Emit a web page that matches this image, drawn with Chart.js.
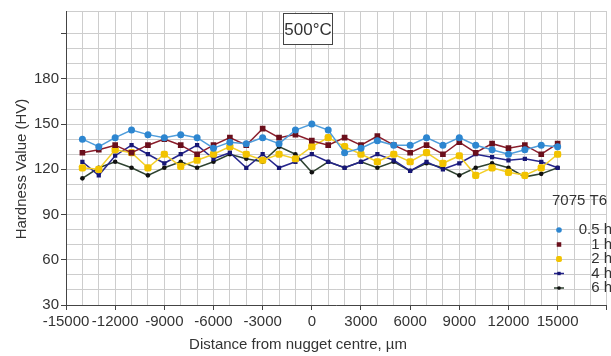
<!DOCTYPE html>
<html><head><meta charset="utf-8">
<script src="https://cdn.jsdelivr.net/npm/chart.js@4/dist/chart.umd.min.js"></script>
<style>html,body{margin:0;padding:0;background:#fff;}#wrap{position:relative;width:611px;height:356px;}</style>
</head><body><div id="wrap"><canvas id="c" width="611" height="356"></canvas></div>
<script>
const distances = [-14000,-13000,-12000,-11000,-10000,-9000,-8000,-7000,-6000,-5000,-4000,-3000,-2000,-1000,0,1000,2000,3000,4000,5000,6000,7000,8000,9000,10000,11000,12000,13000,14000,15000];
const hv_05h = [140,135,141,146,143,141,143,141,134,138,137,141,137,146,150,146,131,134,139,136,136,141,136,141,136,133,130,133,136,135];
const hv_1h  = [131,133,136,131,136,140,136,130,136,141,136,147,141,143,139,136,141,136,142,136,131,136,130,138,131,137,134,136,130,137];
const hv_2h  = [121,120,133,131,121,130,122,126,130,135,130,126,130,127,135,141,135,130,125,130,125,131,124,129,116,121,118,116,121,130];
const hv_4h  = [125,116,129,136,130,124,130,136,127,131,121,130,121,125,130,125,121,125,130,126,119,125,120,124,130,128,126,127,125,121];
const hv_6h  = [114,121,125,121,116,121,125,121,125,130,127,125,135,130,118,125,121,125,121,125,119,124,121,116,121,124,121,115,117,121];
const seriesNames = ['0.5 h','1 h','2 h','4 h','6 h'];
const legendTitle = '7075 T6';
const boxLabel = '500°C';
const xTitle = 'Distance from nugget centre, µm';
const yTitle = 'Hardness Value (HV)';

const FONT = '"Liberation Sans", Arial, sans-serif';
const styles = [
  {line:'#4f9ddb', pt:'#2d86d0', ps:'circle', r:3.5},
  {line:'#8a1d2b', pt:'#6a0f1b', ps:'rect', r:4},
  {line:'#f3cf2a', pt:'#f2c300', ps:'rectRounded', r:4.2},
  {line:'#25258c', pt:'#171775', ps:'rect', r:3},
  {line:'#2e4230', pt:'#111111', ps:'circle', r:2.3}
];
const allSeries = [hv_05h, hv_1h, hv_2h, hv_4h, hv_6h];
const datasets = allSeries.map((vals,i)=>({
  label: seriesNames[i],
  data: distances.map((d,j)=>({x:d,y:vals[j]})),
  borderColor: styles[i].line,
  backgroundColor: styles[i].pt,
  pointBackgroundColor: styles[i].pt,
  pointBorderColor: styles[i].pt,
  pointBorderWidth: 0,
  pointStyle: styles[i].ps,
  pointRadius: styles[i].r,
  borderWidth: 1.5,
  tension: 0,
  fill: false
}));

const decor = {
  id:'decor',
  afterDraw(chart){
    const ctx = chart.ctx;
    ctx.save();
    ctx.fillStyle = '#333';
    ctx.font = '15px ' + FONT;
    ctx.textAlign = 'center';
    ctx.textBaseline = 'middle';
    ctx.fillText(xTitle, 298, 345);
    ctx.save();
    ctx.translate(22, 169);
    ctx.rotate(-Math.PI/2);
    ctx.fillText(yTitle, 0, 0);
    ctx.restore();
    // annotation box
    ctx.fillStyle = '#fff';
    ctx.fillRect(283.5, 13.5, 49, 31);
    ctx.strokeStyle = '#444';
    ctx.lineWidth = 1;
    ctx.strokeRect(283.5, 13.5, 49, 31);
    ctx.fillStyle = '#333';
    ctx.font = '17px ' + FONT;
    ctx.fillText(boxLabel, 308, 30);
    // legend
    ctx.font = '15px ' + FONT;
    ctx.textAlign = 'left';
    ctx.fillText(legendTitle, 552, 201);
    ctx.textAlign = 'right';
    seriesNames.forEach((n,i)=>{
      const y = 230 + i*14.5;
      const s = styles[i];
      if (i >= 3) {
        ctx.strokeStyle = s.line; ctx.lineWidth = 1.5;
        ctx.beginPath(); ctx.moveTo(554, y); ctx.lineTo(564, y); ctx.stroke();
      }
      ctx.fillStyle = s.pt; ctx.strokeStyle = s.pt;
      Chart.helpers.drawPoint(ctx, {pointStyle: s.ps, radius: s.r*0.8, rotation:0, borderWidth:0}, 559, y);
      ctx.fillStyle = '#333';
      ctx.fillText(n, 612, y);
    });
    ctx.restore();
  }
};

new Chart(document.getElementById('c'), {
  type:'line',
  data:{datasets},
  options:{
    responsive:false, animation:false, devicePixelRatio:1,
    layout:{padding:{top:7,right:1,left:0,bottom:0}},
    plugins:{legend:{display:false}, tooltip:{enabled:false}},
    scales:{
      x:{type:'linear', min:-15000, max:18000,
        afterFit(s){ s.height = 51; },
        ticks:{stepSize:1000, autoSkip:false, maxRotation:0, minRotation:0, padding:3,
          color:'#333', font:{family:FONT, size:15},
          callback:(v)=> (v%3000===0 && v<=15000) ? String(v) : ''},
        grid:{color:'#cdcdcd', lineWidth:1, tickLength:5,
          tickColor:(c)=> (c.tick && c.tick.value%3000===0) ? '#444' : 'rgba(0,0,0,0)'},
        border:{color:'#444', width:1}
      },
      y:{type:'linear', min:30, max:225,
        afterFit(s){ s.width = 66; },
        ticks:{stepSize:10, autoSkip:false, padding:2,
          color:'#333', font:{family:FONT, size:15},
          callback:(v)=> (v%30===0 && v<=180) ? String(v) : ''},
        grid:{color:'#cdcdcd', lineWidth:1, tickLength:5,
          tickColor:(c)=> (c.tick && c.tick.value%30===0 && c.tick.value<=210) ? '#444' : 'rgba(0,0,0,0)'},
        border:{color:'#444', width:1}
      }
    }
  },
  plugins:[decor]
});
</script></body></html>
